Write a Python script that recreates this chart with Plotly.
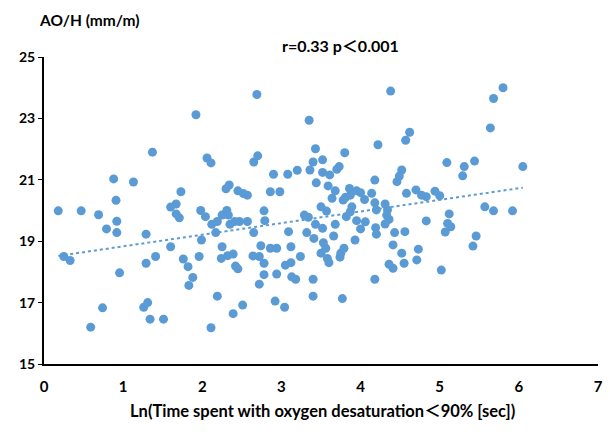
import numpy as np
import plotly.graph_objects as go

x_vals = [1.37,0.88,1.13,1.73,0.91,0.18,0.47,0.69,1.60,1.67,1.67,1.71,0.92,0.79,
          0.92,1.29,1.60,0.25,0.33,1.41,1.29,1.76,1.82,1.83,0.955,0.74,1.26,1.31,1.34,1.51,0.59,
          2.69,1.92,3.35,3.43,2.06,2.11,2.70,2.65,3.40,3.36,3.44,2.90,3.08,3.20,2.30,2.34,2.45,2.52,2.57,
          2.86,2.98,2.78,1.98,2.04,2.12,2.19,2.25,2.31,2.33,2.35,2.41,2.47,2.57,2.79,3.29,3.34,3.43,
          2.17,2.65,3.09,3.32,3.41,1.99,2.25,2.74,2.86,2.94,3.12,1.96,2.24,2.32,2.39,2.64,2.72,2.78,
          3.24,3.05,3.12,2.42,2.45,2.78,2.94,3.13,3.18,1.88,2.72,3.40,3.40,2.19,2.51,2.39,2.92,3.04,2.11,
          4.38,4.62,4.57,4.22,3.80,3.52,3.73,3.70,5.09,3.52,3.61,4.52,4.49,4.46,4.18,3.59,3.68,3.86,
          3.95,4.00,3.87,3.81,3.78,3.64,4.14,4.05,4.58,4.70,4.77,4.83,4.94,5.00,4.18,4.31,4.34,4.20,
          3.50,3.57,3.89,3.87,3.82,3.95,4.06,4.33,4.36,4.31,4.19,4.83,3.68,4.00,
          3.52,3.66,4.20,4.43,4.56,5.07,3.93,3.53,3.56,3.50,3.58,3.60,3.79,3.75,3.74,4.41,4.52,4.73,
          4.71,4.55,4.36,4.41,4.18,5.02,3.77,
          5.80,5.68,5.64,5.31,5.29,5.44,6.05,5.57,5.68,5.92,5.12,5.10,5.14,5.46,5.42]
y_vals = [21.90,21.03,20.93,20.61,20.33,19.99,19.99,19.86,20.11,20.21,19.89,19.76,19.65,19.40,
          19.28,19.23,18.82,18.50,18.37,18.50,18.28,18.42,18.17,17.56,17.97,16.83,16.85,17.00,16.46,16.46,16.20,
          23.78,23.12,22.94,22.01,21.71,21.55,21.78,21.58,21.58,21.32,20.90,21.18,21.18,21.31,20.71,20.83,20.64,20.55,20.50,
          20.61,20.61,19.99,20.00,19.80,19.55,19.64,19.85,20.00,19.85,19.55,19.64,19.64,19.64,19.67,19.85,19.78,19.55,
          19.28,19.28,19.31,19.28,19.09,19.04,18.82,18.85,18.77,18.77,18.82,18.50,18.44,18.53,18.58,18.52,18.50,18.28,
          18.50,18.22,18.30,18.19,18.10,17.91,17.93,17.84,17.76,17.82,17.60,17.76,17.21,17.21,16.92,16.64,17.05,16.85,16.18,
          23.89,22.55,22.29,22.14,21.88,21.65,21.43,21.34,21.56,21.24,21.16,21.32,21.12,20.94,20.99,20.80,20.64,20.72,
          20.64,20.58,20.50,20.43,20.34,20.40,20.56,20.36,20.56,20.67,20.50,20.45,20.63,20.48,20.25,20.21,20.02,20.02,
          20.12,19.98,20.12,19.96,19.80,19.67,19.63,19.85,19.71,19.56,19.44,19.66,19.55,19.40,
          19.42,19.17,19.23,19.28,19.31,19.30,19.04,18.95,18.77,18.61,18.44,18.30,18.77,18.61,18.48,18.88,18.61,18.74,
          18.39,18.28,18.25,18.12,17.76,18.06,17.13,
          24.00,23.65,22.69,21.43,21.13,21.61,21.43,20.12,19.99,19.99,19.89,19.58,19.47,19.17,18.84]

x_ticks = [0, 1, 2, 3, 4, 5, 6, 7]
y_ticks = [15, 17, 19, 21, 23, 25]

FONT = "Lato, 'Noto Sans CJK SC', sans-serif"
BLUE = "#5B9BD5"

xa = np.array(x_vals)
ya = np.array(y_vals)
slope, intercept = np.polyfit(xa, ya, 1)
tx = np.array([xa.min(), xa.max()])
ty = slope * tx + intercept

fig = go.Figure()
fig.add_trace(go.Scatter(x=x_vals, y=y_vals, mode="markers",
                         marker=dict(color=BLUE, size=9, line=dict(width=0)),
                         showlegend=False, hoverinfo="skip"))
fig.add_trace(go.Scatter(x=tx, y=ty, mode="lines",
                         line=dict(color=BLUE, width=2, dash="dot"),
                         showlegend=False, hoverinfo="skip"))

fig.update_layout(
    width=610, height=436,
    margin=dict(l=44, r=7, t=57, b=72),
    plot_bgcolor="white", paper_bgcolor="white",
    font=dict(family=FONT, color="#000000"),
    xaxis=dict(range=[0, 7], tickvals=x_ticks, showgrid=False, zeroline=False,
               showline=True, linecolor="black", linewidth=2,
               ticks="", tickfont=dict(size=15, family=FONT, weight="bold"),
               ticklabelstandoff=8),
    yaxis=dict(range=[15, 25], tickvals=y_ticks, showgrid=False, zeroline=False,
               showline=True, linecolor="black", linewidth=2,
               ticks="outside", ticklen=4, tickcolor="black",
               tickfont=dict(size=14, family=FONT, weight="bold")),
    annotations=[
        dict(text="<b>AO/H (mm/m)</b>", xref="paper", yref="paper",
             x=-0.013, y=1.12, xanchor="left", yanchor="middle", showarrow=False,
             font=dict(size=15.5, family=FONT)),
        dict(text="<b>r=0.33 p＜0.001</b>", xref="paper", yref="paper",
             x=0.535, y=1.038, xanchor="center", yanchor="middle", showarrow=False,
             font=dict(size=16, family=FONT)),
        dict(text="<b>Ln(Time spent with oxygen desaturation＜90% [sec])</b>",
             xref="paper", yref="paper", x=0.503, y=-0.152, xanchor="center",
             yanchor="middle", showarrow=False, font=dict(size=16.5, family=FONT)),
    ],
)

fig.write_html("out.html", config={"displayModeBar": False},
               post_script="document.body.style.margin='0';document.body.style.padding='0';")
